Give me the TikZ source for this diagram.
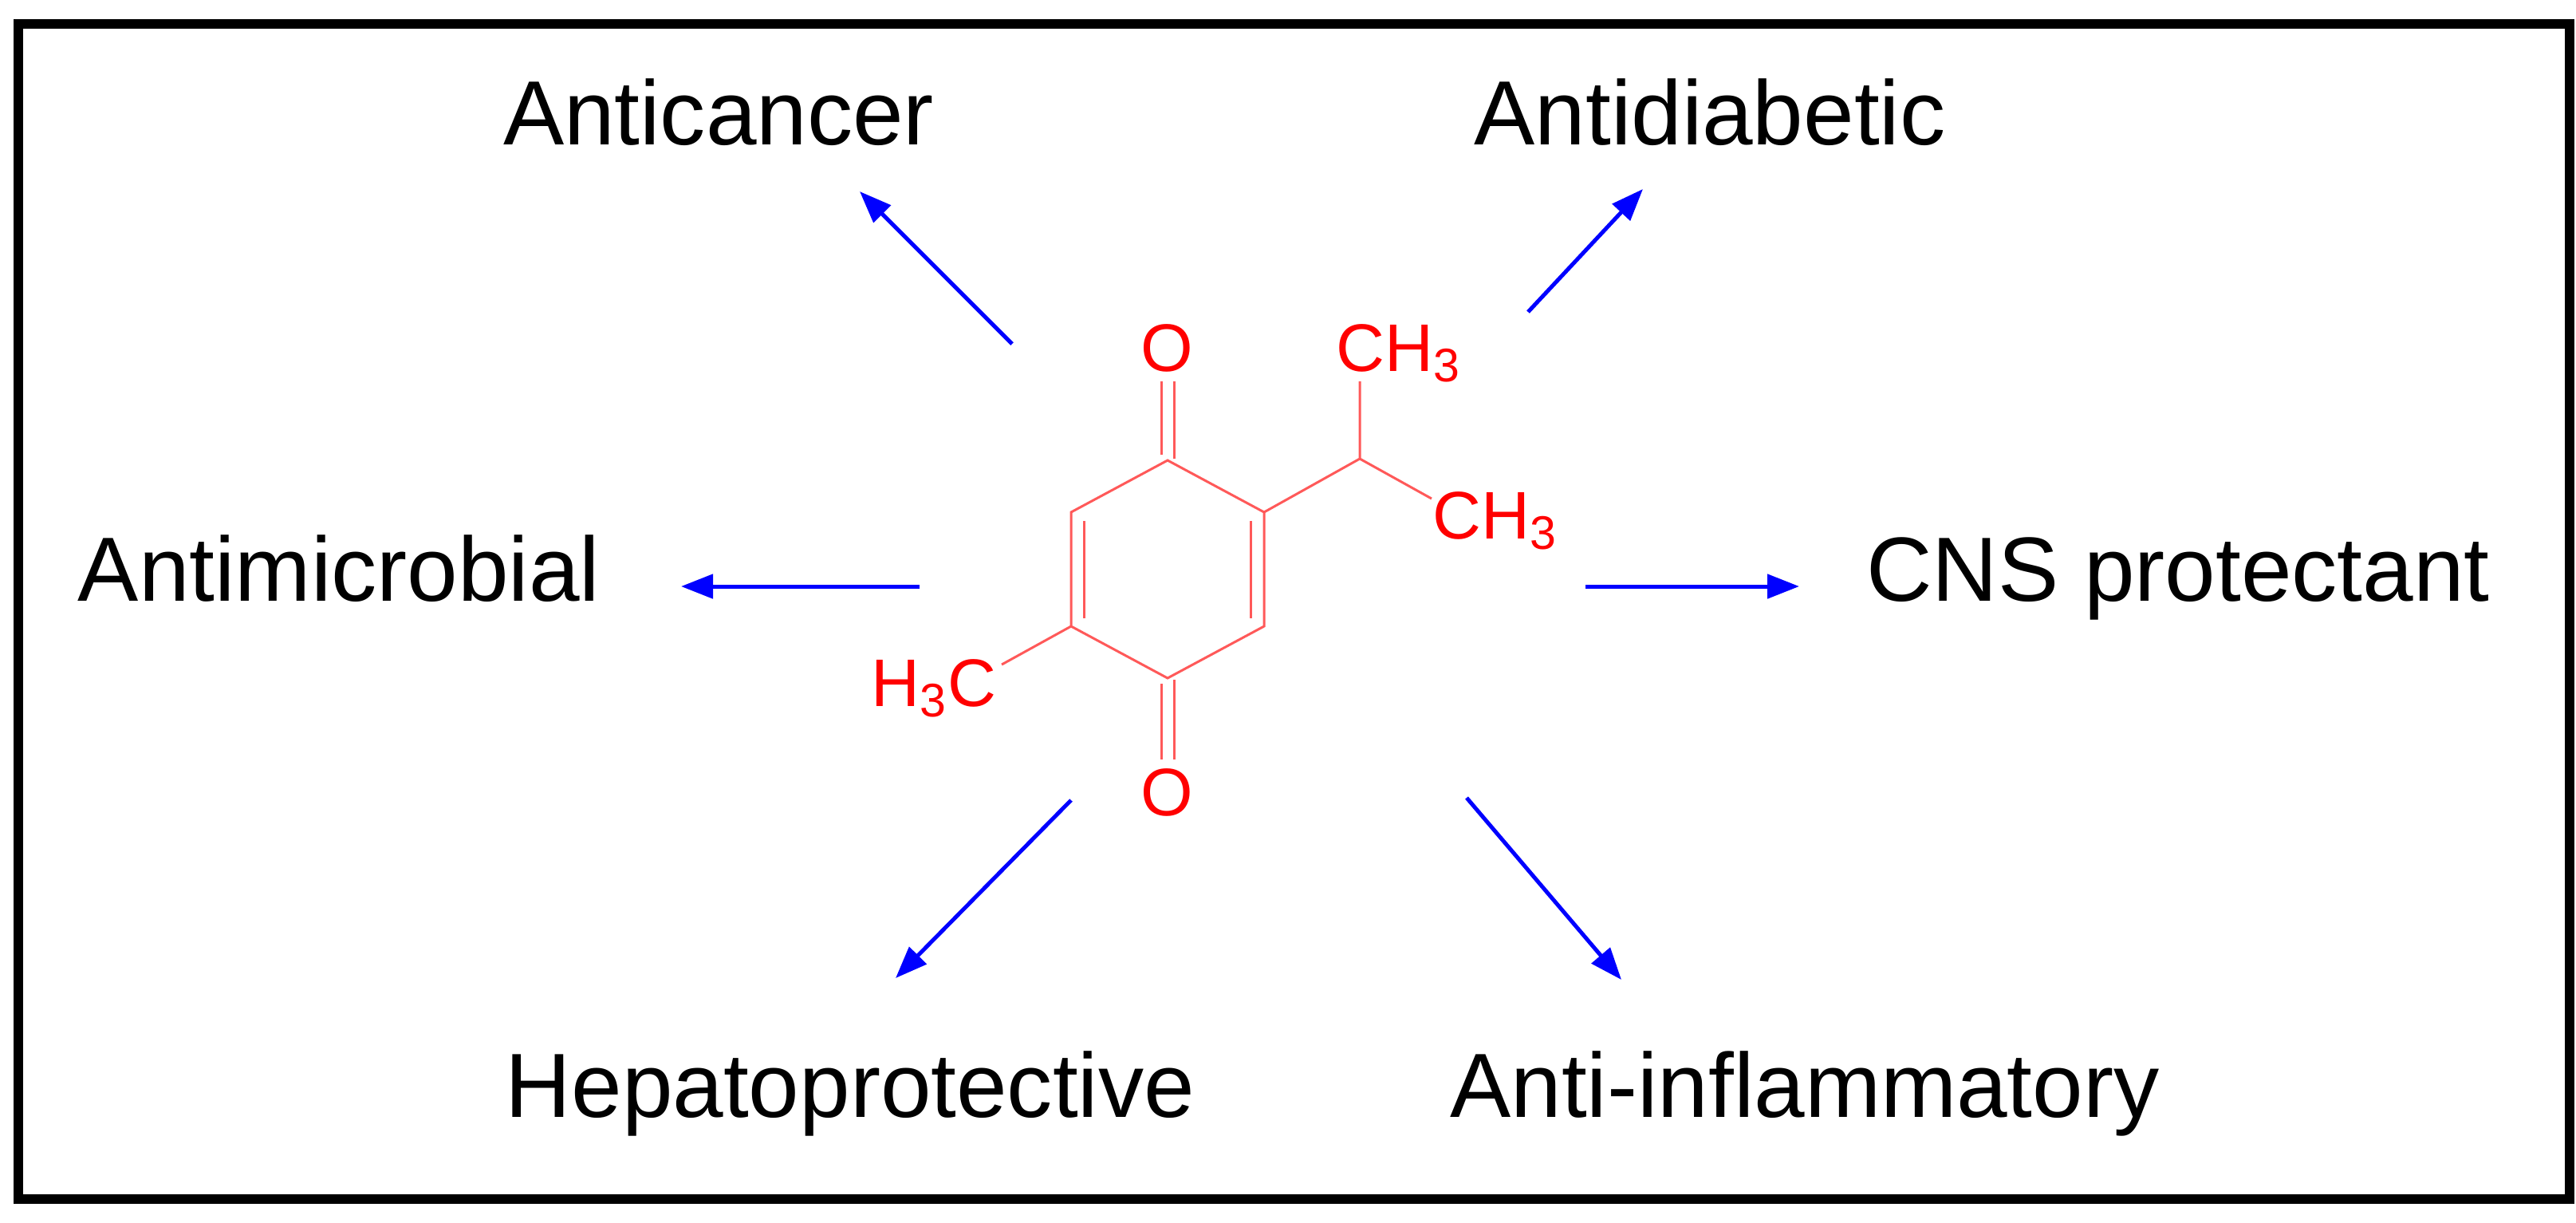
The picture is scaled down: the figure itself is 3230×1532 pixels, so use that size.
\documentclass[tikz,border=0pt]{standalone}
\usepackage{fontspec}
\setmainfont{Liberation Sans}
\usetikzlibrary{arrows.meta}
\begin{document}
\begin{tikzpicture}[x=0.01cm,y=-0.01cm,
  lab/.style={font=\fontsize{32.5}{36}\selectfont,inner sep=0pt,anchor=base},
  atom/.style={font=\fontsize{24}{28}\selectfont,text=red,inner sep=0pt},
  bond/.style={draw=red!65,line width=0.03cm},
  arr/.style={draw=blue,line width=0.05cm,-{Triangle[length=0.4cm,width=0.3cm]}}]
\useasboundingbox (0,0) rectangle (3230,1532);
\draw[line width=0.12cm] (23,30) rectangle (3222,1503);
% labels
\node[lab] (anticancer) at (901,181) {Anticancer};
\node[lab] (antidiabetic) at (2144,181) {Antidiabetic};
\node[lab] (antimicrobial) at (425,753) {Antimicrobial};
\node[lab] (cns) at (2731,753) {CNS protectant};
\node[lab] (hepato) at (1066,1400) {Hepatoprotective};
\node[lab] (antiinf) at (2263,1400) {Anti-inflammatory};
% arrow ends
\coordinate (t1) at (1269,431); \coordinate (h1) at (1078,240);
\coordinate (t2) at (1916,391); \coordinate (h2) at (2060,237);
\coordinate (t3) at (1153,735); \coordinate (h3) at (854,735);
\coordinate (t4) at (1988,735); \coordinate (h4) at (2256,735);
\coordinate (t5) at (1343,1003); \coordinate (h5) at (1123,1226);
\coordinate (t6) at (1839,1000); \coordinate (h6) at (2033,1228);
\foreach \i in {1,...,6} \draw[arr] (t\i) -- (h\i);
% molecule
\coordinate (c1) at (1464,577);
\coordinate (c2) at (1585,642);
\coordinate (c3) at (1585,785);
\coordinate (c4) at (1464,850);
\coordinate (c5) at (1343,785);
\coordinate (c6) at (1343,642);
\coordinate (ch) at (1705,575);
\draw[bond] (c1)--(c2)--(c3)--(c4)--(c5)--(c6)--cycle;
\draw[bond] (1359,653)--(1359,775);
\draw[bond] (1568,653)--(1568,775);
\draw[bond] (1456,570)--(1456,478) (1472,575)--(1472,478);
\draw[bond] (1456,857)--(1456,952) (1472,852)--(1472,952);
\draw[bond] (c2)--(ch)--(1705,478);
\draw[bond] (ch)--(1795,625);
\draw[bond] (c5)--(1256,833);
\node[atom,anchor=base] (o1) at (1463,465) {O};
\node[atom,anchor=base] (o2) at (1463,1022) {O};
\node[atom,anchor=base west] (me1) at (1675,465) {CH\textsubscript{3}};
\node[atom,anchor=base west] (me2) at (1796,675) {CH\textsubscript{3}};
\node[atom,anchor=base east] (me3) at (1250,885) {H\textsubscript{3}C};
\end{tikzpicture}
\end{document}
